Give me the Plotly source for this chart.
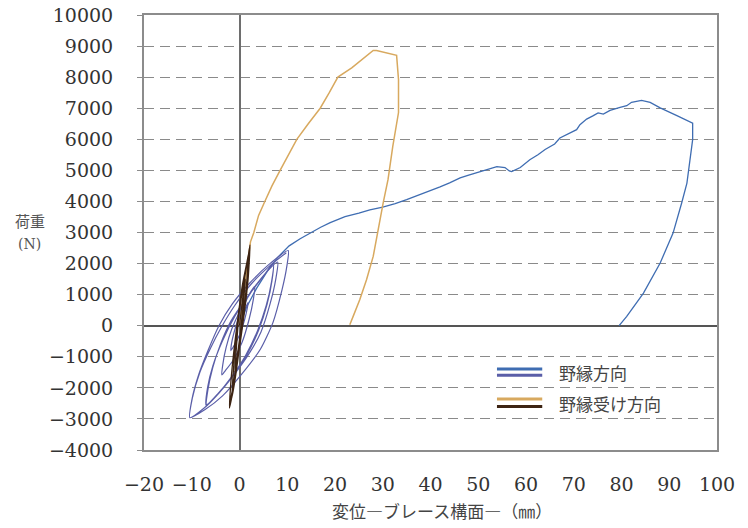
import plotly.graph_objects as go

# 野縁方向 - cyclic loops (purple) and monotonic (blue)
nobuchi_cyc_x = [0.0, 0.6, 1.2, 1.8, 1.4, 0.7, 0.0, -0.8, -1.8,
                 -1.7, -1.2, -0.4, 0.8, 2.0, 3.2,
                 2.9, 2.0, 0.5, -1.5, -3.0, -3.7,
                 -3.5, -2.8, -1.6, 0.2, 2.5, 5.0, 7.1,
                 6.8, 5.8, 4.0, 1.5, -1.5, -4.5, -6.9,
                 -6.6, -5.6, -4.0, -1.8, 1.5, 4.8, 7.1,
                 6.7, 5.6, 3.8, 1.3, -1.7, -4.6, -7.0,
                 -6.7, -5.6, -3.6, -1.0, 2.2, 5.8, 8.0,
                 7.6, 6.4, 4.5, 2.0, -1.0, -4.2, -7.4, -10.4,
                 -10.0, -8.6, -6.6, -4.3, -1.5, 2.0, 6.0, 10.2,
                 9.9, 8.9, 7.0, 4.4, 0.5, -3.5, -7.2, -10.4,
                 -9.9, -8.3, -6.0, -3.8, -1.0, 2.5, 6.5, 9.8]
nobuchi_cyc_y = [0, 300, 550, 750, 400, 0, -300, -550, -800,
                 -600, -250, 150, 600, 1000, 1270,
                 850, 200, -550, -1150, -1450, -1580,
                 -1250, -700, -100, 500, 1100, 1600, 2000,
                 1450, 700, -150, -950, -1650, -2200, -2540,
                 -2050, -1350, -600, 150, 900, 1550, 2000,
                 1400, 650, -150, -950, -1650, -2200, -2560,
                 -2000, -1300, -500, 300, 1050, 1750, 2050,
                 1500, 700, -200, -900, -1550, -2150, -2650, -2960,
                 -2400, -1600, -800, 0, 700, 1350, 1950, 2420,
                 1900, 1150, 100, -750, -1550, -2250, -2700, -2960,
                 -2350, -1500, -700, -50, 650, 1350, 1950, 2350]

nobuchi_mono_x = [0.0, 1.5, 3.6, 6.0, 8.0, 10.4, 12.7, 14.8, 17.0, 19.0, 22.1,
                  25.0, 27.3, 30.0, 32.6, 35.0, 37.8, 40.0, 42.0, 44.0, 46.2,
                  48.0, 50.3, 52.0, 53.9, 55.6, 56.5, 57.0, 58.8, 60.8, 62.5,
                  64.0, 66.0, 67.1, 69.0, 70.6, 71.3, 72.7, 74.1, 75.1, 76.2,
                  77.6, 79.7, 81.1, 82.1, 84.2, 86.0, 88.1, 91.6, 94.9, 94.9,
                  94.3, 93.7, 92.6, 90.8, 88.1, 84.6, 81.1, 79.5]
nobuchi_mono_y = [0, 600, 1210, 1800, 2200, 2570, 2800, 2990, 3170, 3320, 3510,
                  3620, 3730, 3820, 3930, 4060, 4220, 4330, 4470, 4600, 4760,
                  4850, 4960, 5050, 5120, 5090, 4980, 4960, 5090, 5340, 5500,
                  5670, 5850, 6040, 6200, 6310, 6470, 6650, 6760, 6850, 6810,
                  6930, 7030, 7080, 7190, 7250, 7190, 7010, 6760, 6520, 5990,
                  5240, 4590, 3950, 2980, 2020, 1050, 300, 0]

# 野縁受け方向 - cyclic loops (dark brown) and monotonic (tan)
ukeda_cyc_x = [0.0, 0.6, 1.2, 0.8, 0.2, -0.4, -1.0,
               -0.6, -0.1, 0.7, 1.8,
               1.4, 0.7, -0.1, -0.9, -1.6,
               -1.3, -0.8, -0.1, 0.9, 1.7, 2.2,
               1.8, 1.0, 0.1, -0.8, -1.5, -2.1,
               -1.8, -1.1, -0.3, 0.6, 1.5, 2.1,
               1.7, 0.9, 0.0, -0.9, -1.4, -1.9]
ukeda_cyc_y = [0, 800, 1500, 700, -200, -900, -1500,
               -600, 400, 1300, 2150,
               1200, 200, -800, -1700, -2320,
               -1500, -500, 400, 1400, 2100, 2600,
               1500, 400, -600, -1500, -2200, -2650,
               -1800, -700, 300, 1300, 2000, 2450,
               1500, 400, -600, -1500, -2000, -2400]

ukeda_mono_x = [0.0, 0.8, 1.6, 2.3, 3.0, 4.0, 5.3, 6.8, 8.5, 10.2, 12.0,
                14.4, 16.9, 18.8, 20.6, 23.5,
                25.6, 26.6, 28.0, 28.7, 32.9, 33.3, 33.3, 32.1, 31.1, 30.1,
                29.1, 28.0, 26.6, 25.2, 23.8, 23.1]
ukeda_mono_y = [0, 1000, 2000, 2700, 3000, 3550, 4000, 4500, 5000, 5500, 6000,
                6500, 7000, 7500, 8000, 8300,
                8560, 8690, 8860, 8860, 8700, 7920, 6860, 5770, 4700, 3960,
                3090, 2230, 1480, 840, 300, 30]

x_ticks = list(range(-20, 101, 10))
x_labels = [str(v).replace('-', '−') for v in x_ticks]
y_ticks = list(range(-4000, 10001, 1000))
y_labels = [str(v).replace('-', '−') for v in y_ticks]

fig = go.Figure()

fig.add_trace(go.Scatter(x=nobuchi_mono_x, y=nobuchi_mono_y, mode='lines',
                         line=dict(color='#3f6db2', width=1.3)))
fig.add_trace(go.Scatter(x=nobuchi_cyc_x, y=nobuchi_cyc_y, mode='lines',
                         line=dict(color='#5a5ea8', width=1.2, shape='spline', smoothing=0.6)))
fig.add_trace(go.Scatter(x=ukeda_mono_x, y=ukeda_mono_y, mode='lines',
                         line=dict(color='#d8a95f', width=1.5)))
fig.add_trace(go.Scatter(x=ukeda_cyc_x, y=ukeda_cyc_y, mode='lines',
                         line=dict(color='#3d2413', width=1.3, shape='spline', smoothing=0.6)))

fig.update_xaxes(
    range=[-20, 100], tickvals=x_ticks, ticktext=x_labels, showgrid=False,
    showline=True, mirror=True, linecolor='#8c8c8c', linewidth=2,
    zeroline=True, zerolinecolor='#6e6e6e', zerolinewidth=2,
    tickfont=dict(family='DejaVu Serif', size=19, color='#333'),
    ticklabelstandoff=16, automargin=False, ticklabeloverflow='allow',
)
fig.update_yaxes(
    range=[-4000, 10000], tickvals=y_ticks, ticktext=y_labels, showgrid=True,
    gridcolor='#8a8a8a', gridwidth=1, griddash='10px,6px',
    showline=True, mirror=True, linecolor='#8c8c8c', linewidth=2,
    zeroline=True, zerolinecolor='#555', zerolinewidth=1.6,
    ticks='outside', ticklen=5, tickcolor='#8c8c8c',
    tickfont=dict(family='DejaVu Serif', size=19, color='#333'),
    ticklabelstandoff=20, automargin=False, ticklabeloverflow='allow',
)

# hand-drawn legend with double lines
jp = 'Noto Sans CJK JP'
legend_rows = [
    ('野縁方向', '#3f6db2', '#5a5ea8', 0.186, 0.172, 0.179),
    ('野縁受け方向', '#d8a95f', '#3d2413', 0.117, 0.100, 0.108),
]
for name, c1, c2, y1, y2, yt in legend_rows:
    fig.add_shape(type='line', xref='paper', yref='paper', x0=0.616, x1=0.695,
                  y0=y1, y1=y1, line=dict(color=c1, width=3))
    fig.add_shape(type='line', xref='paper', yref='paper', x0=0.616, x1=0.695,
                  y0=y2, y1=y2, line=dict(color=c2, width=3))
    fig.add_annotation(text=name, xref='paper', yref='paper', x=0.721, y=yt,
                       xanchor='left', yanchor='middle', showarrow=False,
                       font=dict(family=jp, size=17, color='#444'))

# y title, two lines stacked at the far left
fig.add_annotation(text='荷重', xref='paper', yref='paper', x=-0.199, y=0.499,
                   xanchor='center', yanchor='bottom', showarrow=False,
                   font=dict(family=jp, size=15, color='#555'))
fig.add_annotation(text='(N)', xref='paper', yref='paper', x=-0.199, y=0.496,
                   xanchor='center', yanchor='top', showarrow=False,
                   font=dict(family='DejaVu Serif', size=14, color='#555'))
fig.add_annotation(text='変位―ブレース構面―（㎜）', xref='paper', yref='paper',
                   x=0.52, y=-0.138, xanchor='center', yanchor='middle', showarrow=False,
                   font=dict(family=jp, size=17, color='#444'))

# page has an 8px body margin, so the figure is shrunk to fit the window
fig.update_layout(
    width=740, height=520,
    margin=dict(l=136, r=31, t=7, b=78),
    plot_bgcolor='white', paper_bgcolor='white',
    showlegend=False,
)

fig.write_html("out.html")
